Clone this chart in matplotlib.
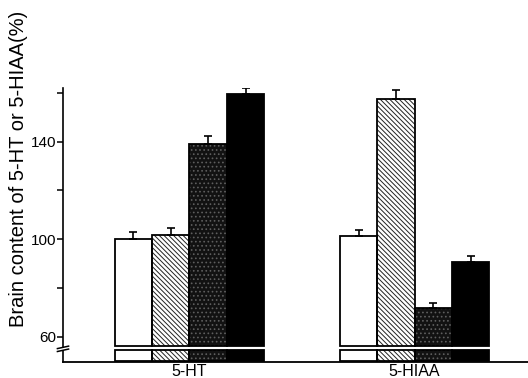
import matplotlib
matplotlib.use("Agg")
import matplotlib.pyplot as plt
import matplotlib.transforms as mtransforms
import numpy as np

# ---- data ----
categories = ["5-HT", "5-HIAA"]
series_names = ["control", "hatched", "stippled", "black"]
values = {
    "control":  [100.0, 101.2],
    "hatched":  [101.9, 157.5],
    "stippled": [139.0, 72.0],
    "black":    [159.6, 90.5],
}
errors = {
    "control":  [2.8, 2.7],
    "hatched":  [2.7, 3.7],
    "stippled": [3.4, 1.8],
    "black":    [2.3, 2.7],
}
yticks_major = [60, 100, 140]
yticks_minor = [80, 120, 160]
ylabel = "Brain content of 5-HT or 5-HIAA(%)"

FONT = ["Liberation Sans", "DejaVu Sans"]
plt.rcParams['font.family'] = FONT
plt.rcParams['hatch.linewidth'] = 0.7

W, H = 528, 378
fig = plt.figure(figsize=(W / 100, H / 100), dpi=100)
ax_left, ax_right = 63 / W, 1.0
ax_bottom, ax_top = (H - 362) / H, (H - 88) / H
ax = fig.add_axes([ax_left, ax_bottom, ax_right - ax_left, ax_top - ax_bottom])

ymin, ymax = 49.7, 162.0
bar_base = 56.3
strip_lo, strip_hi = 50.2, 54.7
ax.set_ylim(ymin, ymax)
ax.set_xlim(-0.562, 1.504)

w = 0.166
x = np.arange(len(categories))

styles = {
    "control":  dict(face="white", hatch=None, hcolor=None),
    "hatched":  dict(face="white", hatch="\\" * 7, hcolor="#222222"),
    "stippled": dict(face="#121212", hatch="....", hcolor="#5e5e5e"),
    "black":    dict(face="black", hatch=None, hcolor=None),
}

for i, name in enumerate(series_names):
    xs = x + (i - 1.5) * w
    vals = np.array(values[name])
    st = styles[name]
    for bottom, heights in ((bar_base, vals - bar_base),
                            (strip_lo, np.full(len(vals), strip_hi - strip_lo))):
        if st["hatch"]:
            ax.bar(xs, heights, width=w, bottom=bottom, color=st["face"],
                   hatch=st["hatch"], edgecolor=st["hcolor"], linewidth=0, zorder=2)
            ax.bar(xs, heights, width=w, bottom=bottom, facecolor="none",
                   edgecolor="black", linewidth=1.3, zorder=3)
        else:
            ax.bar(xs, heights, width=w, bottom=bottom, color=st["face"],
                   edgecolor="black", linewidth=1.3, zorder=3)
    ax.errorbar(xs, vals, yerr=[np.zeros(len(vals)), errors[name]], fmt="none",
                ecolor="black", elinewidth=1.2, capsize=3, capthick=1.2, zorder=4)

# axes styling
for s in ["top", "right", "left", "bottom"]:
    ax.spines[s].set_visible(False)
ax.set_yticks(yticks_major)
ax.set_yticks(yticks_minor, minor=True)
ax.tick_params(axis="y", which="both", direction="out", length=4, width=1.1,
               labelsize=11, pad=1)
ax.set_xticks([])

# category labels just under the baseline
lab_trans = mtransforms.blended_transform_factory(ax.transData, fig.transFigure)
for xi, cat in zip(x, categories):
    ax.text(xi, 2.0 / H, cat, transform=lab_trans, ha="center", va="baseline",
            fontsize=11.5, zorder=10, clip_on=False)

# custom left spine with break
trans = ax.get_yaxis_transform()
ax.plot([0, 0], [55.9, ymax], color="black", lw=1.2, transform=trans, clip_on=False)
ax.plot([0, 0], [ymin, 54.3], color="black", lw=1.2, transform=trans, clip_on=False)
for yb in (54.5, 55.7):
    ax.plot([-0.012, 0.012], [yb - 0.5, yb + 0.5], color="black", lw=1.1,
            transform=trans, clip_on=False)
# bottom line
ax.plot([0, 1], [ymin, ymin], color="black", lw=1.3, transform=trans, clip_on=False)

fig.text(19 / W, 1 - 168.5 / H, ylabel, rotation=90, ha="center", va="center",
         fontsize=14.5)

fig.savefig("out.png", dpi=100)
